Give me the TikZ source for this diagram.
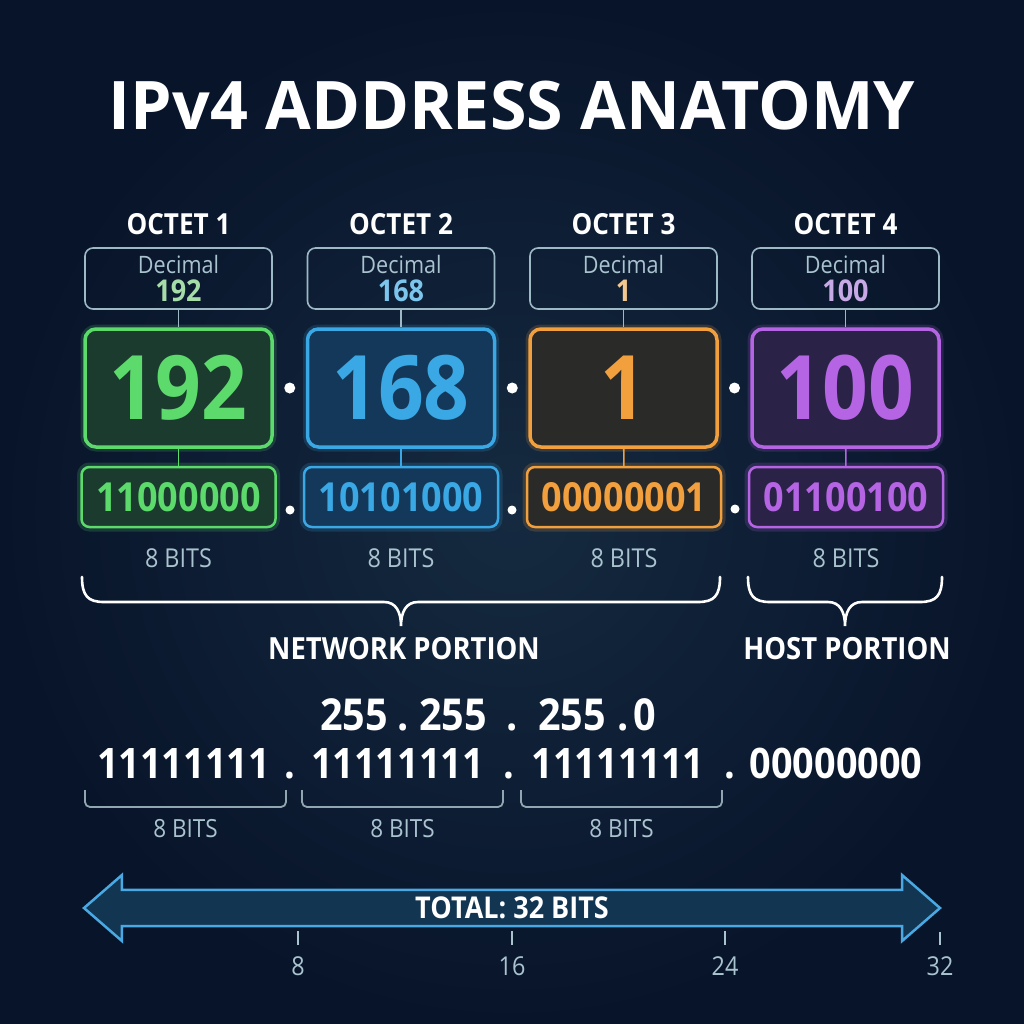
\documentclass[tikz,border=0pt]{standalone}
\usepackage{fontspec}
\setmainfont{Open Sans}[FakeStretch=0.9]
\newfontfamily\titlefont{Open Sans}[FakeStretch=0.99]
\usepackage{tikz}
\usetikzlibrary{calc,
	positioning,
	shapes.arrows
}
\definecolor{bgin}{HTML}{152A40}
\definecolor{bgout}{HTML}{08142A}
\definecolor{boxline}{HTML}{9DB9C6}
\definecolor{softgray}{HTML}{A9C3CF}
\definecolor{gline}{HTML}{5CDB6C}
\definecolor{gfill}{HTML}{1A3B2E}
\definecolor{gdec}{HTML}{A6DCA8}
\definecolor{bline}{HTML}{3AA8E4}
\definecolor{bfill}{HTML}{14385A}
\definecolor{bdec}{HTML}{7CC6EE}
\definecolor{oline}{HTML}{F2A03E}
\definecolor{ofill}{HTML}{2A2A29}
\definecolor{odec}{HTML}{F3C88E}
\definecolor{pline}{HTML}{B565E4}
\definecolor{pfill}{HTML}{2B2248}
\definecolor{pdec}{HTML}{C7A9E6}
\definecolor{arrowline}{HTML}{4AA9E2}
\definecolor{arrowfill}{HTML}{123552}
\newcommand{\decval}[2]{{\color{#1}\fontsize{30}{28}\selectfont\bfseries #2}}
\tikzset{Anatomy/.style = {
		x=1pt, y=-1pt,
		every node/.style = {inner sep=0pt, text=white},
		maintitle/.style = {anchor=base, font=\titlefont\fontsize{67}{67}\selectfont\bfseries},
		octettitle/.style = {font=\fontsize{29}{29}\selectfont\bfseries},
		decbox/.style = {draw=boxline, line width=1.6pt, rounded corners=8pt,
			minimum width=187pt, minimum height=61pt, align=center,
			text=softgray, font=\fontsize{24}{28}\selectfont},
		bigbox/.style = {line width=3.5pt, rounded corners=11pt,
			minimum width=187pt, minimum height=118pt,
			font=\fontsize{89}{89}\selectfont\bfseries},
		bitbox/.style = {line width=2.5pt, rounded corners=8pt,
			minimum width=194pt, minimum height=60pt,
			font=\fontsize{40}{40}\selectfont\bfseries},
		glow/.style = {preaction={draw=#1, line width=9pt, draw opacity=.18}},
		octetA/.style = {draw=gline, fill=gfill, text=gline, glow=gline},
		octetB/.style = {draw=bline, fill=bfill, text=bline, glow=bline},
		octetC/.style = {draw=oline, fill=ofill, text=oline, glow=oline},
		octetD/.style = {draw=pline, fill=pfill, text=pline, glow=pline},
		stem/.style = {draw=boxline, line width=1.6pt},
		bigdot/.style = {circle, fill=white, minimum size=11pt},
		smalldot/.style = {circle, fill=white, minimum size=9pt},
		bitslabel/.style = {text=softgray, font=\fontsize{26}{26}\selectfont},
		portionbrace/.style = {draw=white, line width=2.6pt, line cap=round},
		portion/.style = {anchor=base, font=\fontsize{30.5}{30}\selectfont\bfseries},
		maskdigits/.style = {anchor=base, font=\fontsize{44}{44}\selectfont\bfseries},
		maskbits/.style = {anchor=base, font=\fontsize{42}{42}\selectfont\bfseries},
		bitbracket/.style = {draw=softgray!85!black, line width=1.8pt, rounded corners=5pt},
		smallbits/.style = {text=softgray, font=\fontsize{25}{25}\selectfont},
		totalarrow/.style = {double arrow, draw=arrowline, fill=arrowfill, line width=2.5pt,
			minimum height=856pt, minimum width=66pt,
			double arrow head extend=10pt, double arrow tip angle=82,
			font=\fontsize{30}{30}\selectfont\bfseries},
		tick/.style = {draw=softgray, line width=1.6pt},
		ticklabel/.style = {text=softgray, font=\fontsize{26}{26}\selectfont}
	}% end of Anatomy style
}
\begin{document}
\begin{tikzpicture}[Anatomy]
  \shade[inner color=bgin, outer color=bgout] (0,0) rectangle (1024,1024);
  \useasboundingbox (0,0) rectangle (1024,1024);

  \node[maintitle] (title) at (512,130) {IPv4 ADDRESS ANATOMY};

  % octet 1
  \node[decbox] (dec1) at (178.5,278.5) {Decimal\\\decval{gdec}{192}};
  \node[octettitle, above=12pt of dec1] (oct1) {OCTET 1};
  \node[bigbox, octetA] (big1) at (178.5,388) {192};
  \node[bitbox, octetA] (bin1) at (178.5,497) {11000000};
  \node[bitslabel, below=20pt of bin1] (bits1) {8 BITS};
  \draw[stem] (dec1) -- (big1);
  \draw[stem, draw=gline] (big1) -- (bin1);

  % octet 2
  \node[decbox] (dec2) at (401,278.5) {Decimal\\\decval{bdec}{168}};
  \node[octettitle, above=12pt of dec2] (oct2) {OCTET 2};
  \node[bigbox, octetB] (big2) at (401,388) {168};
  \node[bitbox, octetB] (bin2) at (401,497) {10101000};
  \node[bitslabel, below=20pt of bin2] (bits2) {8 BITS};
  \draw[stem] (dec2) -- (big2);
  \draw[stem, draw=bline] (big2) -- (bin2);

  % octet 3
  \node[decbox] (dec3) at (623.5,278.5) {Decimal\\\decval{odec}{1}};
  \node[octettitle, above=12pt of dec3] (oct3) {OCTET 3};
  \node[bigbox, octetC] (big3) at (623.5,388) {1};
  \node[bitbox, octetC] (bin3) at (624,497) {00000001};
  \node[bitslabel, below=20pt of bin3] (bits3) {8 BITS};
  \draw[stem] (dec3) -- (big3);
  \draw[stem, draw=oline] (big3) -- (bin3);

  % octet 4
  \node[decbox] (dec4) at (845.5,278.5) {Decimal\\\decval{pdec}{100}};
  \node[octettitle, above=12pt of dec4] (oct4) {OCTET 4};
  \node[bigbox, octetD] (big4) at (845.5,388) {100};
  \node[bitbox, octetD] (bin4) at (846,497) {01100100};
  \node[bitslabel, below=20pt of bin4] (bits4) {8 BITS};
  \draw[stem] (dec4) -- (big4);
  \draw[stem, draw=pline] (big4) -- (bin4);

  % dots between the octets
  \node[bigdot] (bd1) at ($(big1.east)!.5!(big2.west)$) {};
  \node[bigdot] (bd2) at ($(big2.east)!.5!(big3.west)$) {};
  \node[bigdot] (bd3) at ($(big3.east)!.5!(big4.west)$) {};
  \node[smalldot] (sd1) at (290,510) {};
  \node[smalldot] (sd2) at (512,510) {};
  \node[smalldot] (sd3) at (735,509) {};

  % portions
  \draw[portionbrace] (82,577) .. controls (82,596) and (88,602) .. (104,602) -- (384,602)
    .. controls (396,602) and (401,612) .. (401,626) .. controls (401,612) and (406,602) .. (418,602)
    -- (698,602) .. controls (714,602) and (720,596) .. (720,577);
  \draw[portionbrace] (748,577) .. controls (748,596) and (754,602) .. (770,602) -- (828,602)
    .. controls (840,602) and (845,612) .. (845,626) .. controls (845,612) and (850,602) .. (862,602)
    -- (920,602) .. controls (936,602) and (942,596) .. (942,577);
  \node[portion] (net) at (404,659) {NETWORK PORTION};
  \node[portion] (host) at (847,659) {HOST PORTION};

  % subnet mask
  \node[maskdigits] (m1) at (354,730) {255};
  \node[maskdigits] (md1) at (403,730) {.};
  \node[maskdigits] (m2) at (453,730) {255};
  \node[maskdigits] (md2) at (512,730) {.};
  \node[maskdigits] (m3) at (572,730) {255};
  \node[maskdigits] (md3) at (623,730) {.};
  \node[maskdigits] (m4) at (645,730) {0};
  \node[maskbits] (mb1) at (183.5,778) {11111111};
  \node[maskbits] (mbd1) at (290,778) {.};
  \node[maskbits] (mb2) at (397.5,778) {11111111};
  \node[maskbits] (mbd2) at (509,778) {.};
  \node[maskbits] (mb3) at (618,778) {11111111};
  \node[maskbits] (mbd3) at (730,778) {.};
  \node[maskbits] (mb4) at (836,778) {00000000};
  \draw[bitbracket] (85,790) -- (85,807) -- (286,807) -- (286,790);
  \draw[bitbracket] (302,790) -- (302,807) -- (503,807) -- (503,790);
  \draw[bitbracket] (521,790) -- (521,807) -- (722,807) -- (722,790);
  \node[smallbits] (mbits1) at (185.5,829) {8 BITS};
  \node[smallbits] (mbits2) at (402.5,829) {8 BITS};
  \node[smallbits] (mbits3) at (621.5,829) {8 BITS};

  % total
  \node[totalarrow] (total) at (512,908) {TOTAL: 32 BITS};
  \draw[tick] (298,931) -- (298,945) coordinate (tk8);
  \draw[tick] (512,931) -- (512,945) coordinate (tk16);
  \draw[tick] (725,931) -- (725,945) coordinate (tk24);
  \draw[tick] (940,932) -- (940,945) coordinate (tk32);
  \node[ticklabel, below=11pt of tk8] (n8) {8};
  \node[ticklabel, below=11pt of tk16] (n16) {16};
  \node[ticklabel, below=11pt of tk24] (n24) {24};
  \node[ticklabel, below=11pt of tk32] (n32) {32};
\end{tikzpicture}
\end{document}
